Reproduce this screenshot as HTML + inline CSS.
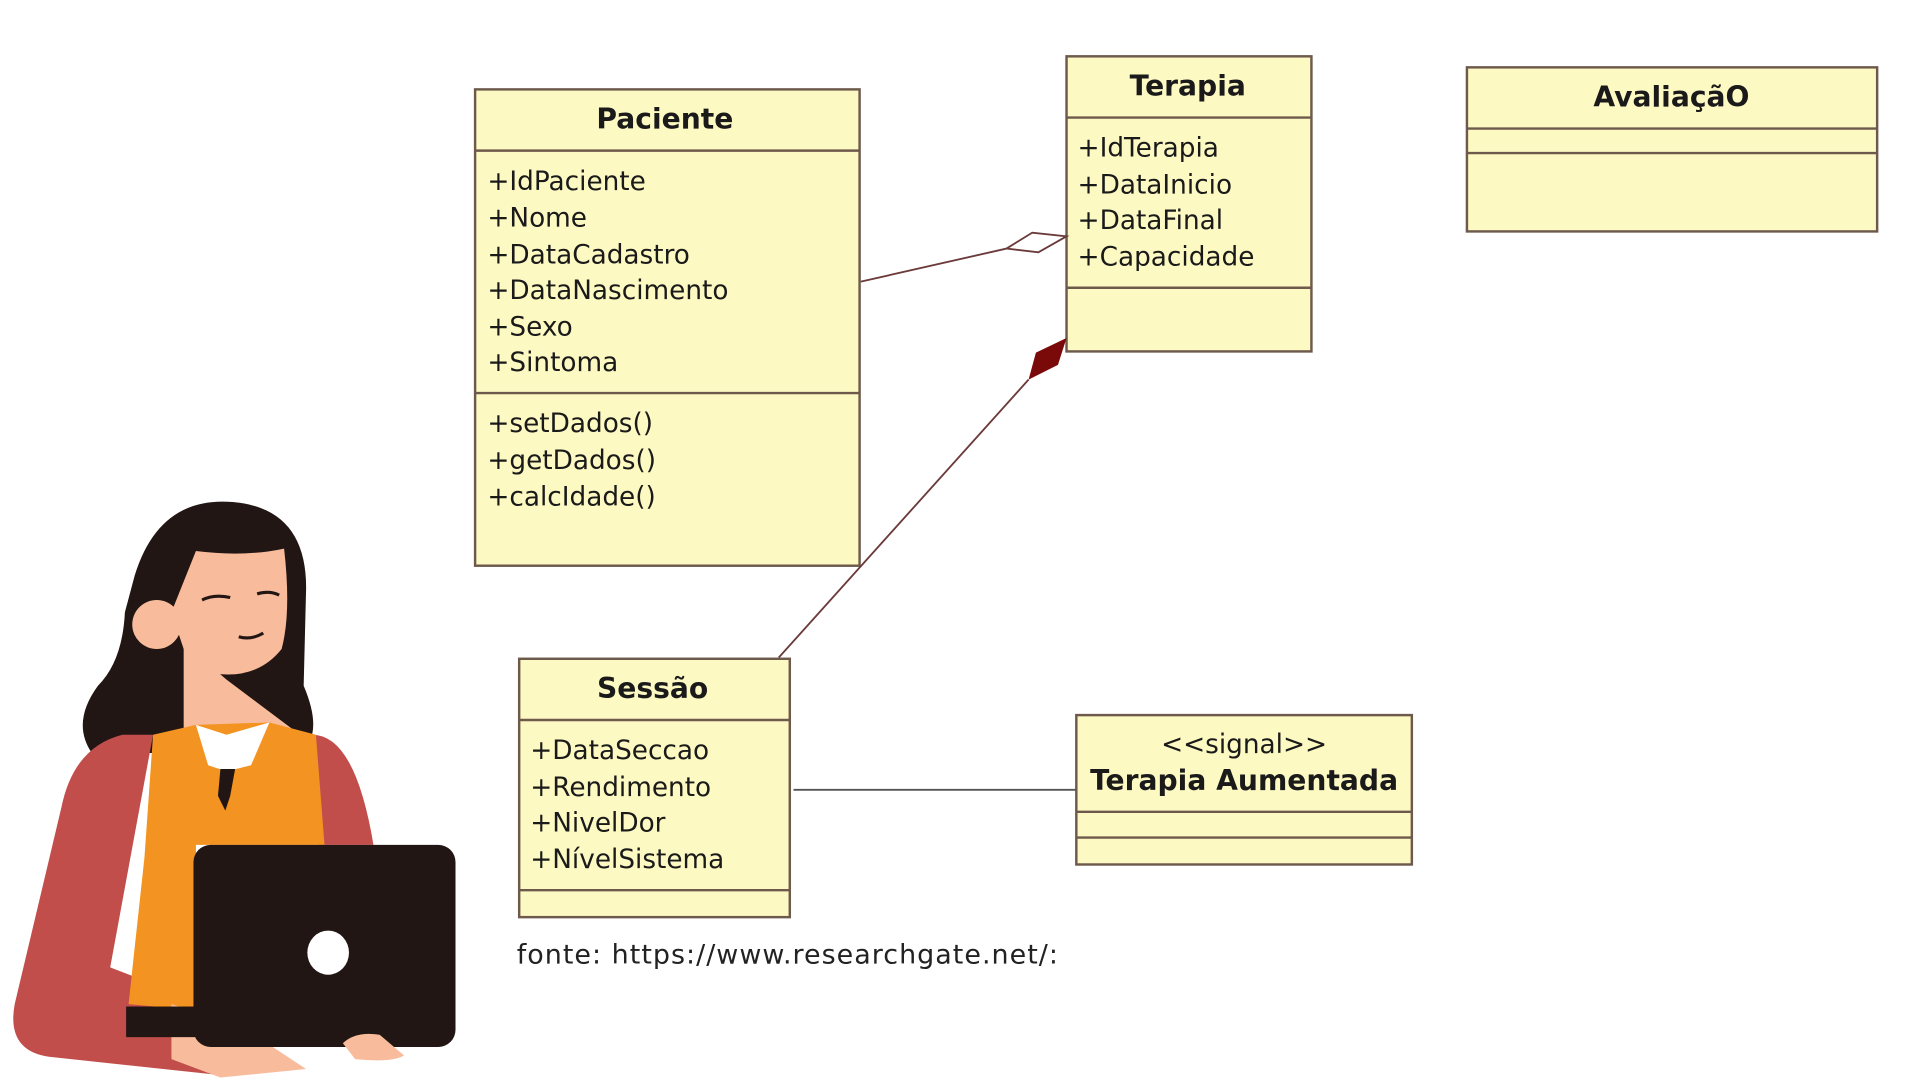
<!DOCTYPE html>
<html><head><meta charset="utf-8"><style>
html,body{margin:0;padding:0;background:#fff;width:1920px;height:1080px;overflow:hidden}
svg{display:block}
text{font-family:"DejaVu Sans","Liberation Sans",sans-serif;fill:#1a1a1a}
.a{font-size:21.5px}
.t{font-size:23px;font-weight:bold;text-anchor:middle}
</style></head><body>
<svg width="1920" height="1080" viewBox="0 0 1568 882" xmlns="http://www.w3.org/2000/svg">
<g fill="#fdf9c2" stroke="#6e5a4c" stroke-width="2">
<rect x="388" y="73" width="314" height="389"/>
<line x1="388" y1="123" x2="702" y2="123"/><line x1="388" y1="321" x2="702" y2="321"/>
<rect x="871" y="46" width="200" height="241"/>
<line x1="871" y1="96" x2="1071" y2="96"/><line x1="871" y1="235" x2="1071" y2="235"/>
<rect x="1198" y="55" width="335" height="134"/>
<line x1="1198" y1="105" x2="1533" y2="105"/><line x1="1198" y1="125" x2="1533" y2="125"/>
<rect x="424" y="538" width="221" height="211"/>
<line x1="424" y1="588" x2="645" y2="588"/><line x1="424" y1="727" x2="645" y2="727"/>
<rect x="879" y="584" width="274" height="122"/>
<line x1="879" y1="663" x2="1153" y2="663"/><line x1="879" y1="684" x2="1153" y2="684"/>
</g>
<g stroke="#6b3a3a" stroke-width="1.5" fill="none">
<line x1="703" y1="230" x2="822" y2="203"/>
<path d="M822,203 L843,190 L871,193 L848,206 Z" fill="#fff"/>
<line x1="636" y1="537" x2="840" y2="310"/>
<line x1="648" y1="645" x2="879" y2="645" stroke="#555"/>
</g>
<path d="M840,310 L846,288 L871,276 L864,298 Z" fill="#7a0a0a"/>
<text class="t" x="543" y="105">Paciente</text>
<text class="a" x="398" y="155">+IdPaciente</text>
<text class="a" x="398" y="185">+Nome</text>
<text class="a" x="398" y="215">+DataCadastro</text>
<text class="a" x="398" y="244">+DataNascimento</text>
<text class="a" x="398" y="274">+Sexo</text>
<text class="a" x="398" y="303">+Sintoma</text>
<text class="a" x="398" y="353">+setDados()</text>
<text class="a" x="398" y="383">+getDados()</text>
<text class="a" x="398" y="413">+calcIdade()</text>
<text class="t" x="970" y="78">Terapia</text>
<text class="a" x="880" y="128">+IdTerapia</text>
<text class="a" x="880" y="158">+DataInicio</text>
<text class="a" x="880" y="187">+DataFinal</text>
<text class="a" x="880" y="217">+Capacidade</text>
<text class="t" x="1365" y="87">AvaliaçãO</text>
<text class="t" x="533" y="570">Sessão</text>
<text class="a" x="433" y="620">+DataSeccao</text>
<text class="a" x="433" y="650">+Rendimento</text>
<text class="a" x="433" y="679">+NivelDor</text>
<text class="a" x="433" y="709">+NívelSistema</text>
<text class="a" x="1016" y="615" text-anchor="middle">&lt;&lt;signal&gt;&gt;</text>
<text class="t" x="1016" y="645">Terapia Aumentada</text>
<text x="422" y="787" style="font-size:22px;fill:#222" textLength="442">fonte: https://www.researchgate.net/:</text>
<!-- woman -->
<path d="M110,470 Q130,405 190,410 Q250,415 250,480 L248,560 Q265,600 245,615 L75,615 Q58,590 80,560 Q100,540 102,500 Z" fill="#221614"/>
<path d="M160,450 Q200,455 232,448 Q238,500 230,530 Q210,555 175,550 L150,530 L140,500 Z" fill="#f8bc9c"/>
<circle cx="128" cy="510" r="20" fill="#f8bc9c"/>
<path d="M165,490 Q175,485 188,488 M210,485 Q220,482 228,486 M195,520 Q205,523 215,517" stroke="#221614" stroke-width="2.5" fill="none"/>
<path d="M150,525 L185,555 L245,600 L150,600 Z" fill="#f8bc9c"/>
<path d="M100,600 Q60,610 50,660 L12,820 Q5,858 40,863 L180,878 L180,825 L90,790 L125,600 Z" fill="#c24e4c"/>
<path d="M255,600 Q290,600 305,690 L260,690 Z" fill="#c24e4c"/>
<path d="M125,600 L160,592 L220,590 L258,600 L265,690 L160,690 L160,825 L105,820 L118,700 Z" fill="#f39321"/>
<path d="M160,592 L185,600 L220,590 L205,625 L185,630 L170,625 Z" fill="#fff"/>
<path d="M180,628 L192,628 L188,650 L184,662 L178,650 Z" fill="#221614"/>
<path d="M140,820 L200,840 L250,873 L180,880 L140,865 Z" fill="#f8bc9c"/>
<rect x="158" y="690" width="214" height="165" rx="14" fill="#221614"/>
<rect x="103" y="822" width="60" height="25" fill="#221614"/>
<ellipse cx="268" cy="778" rx="17" ry="18" fill="#fff"/>
<path d="M280,852 Q290,842 310,845 L330,862 Q320,868 290,865 Z" fill="#f8bc9c"/>
</svg>
</body></html>
